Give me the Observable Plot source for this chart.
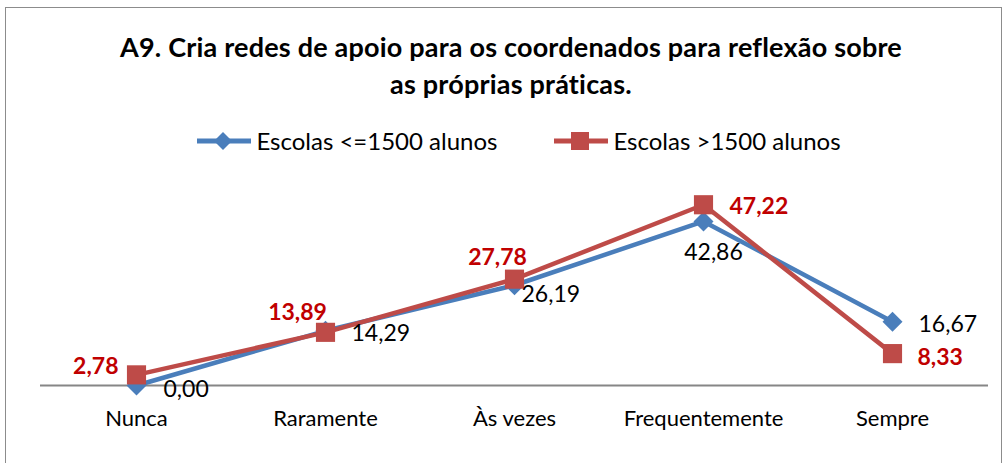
<!DOCTYPE html>
<html>
<head>
<meta charset="utf-8">
<script src="https://cdn.jsdelivr.net/npm/d3@7"></script>
<script src="https://cdn.jsdelivr.net/npm/@observablehq/plot@0.6"></script>
<style>
  body { margin: 0; background: #fff; font-family: Lato, "Open Sans", sans-serif; }
  #wrap { position: relative; width: 1004px; height: 463px; overflow: hidden; background: #fff; }
  #frame { position: absolute; left: 5px; top: 7px; width: 997px; height: 460px; border: 1.5px solid #8c8c8c; box-sizing: border-box; }
  #title { position: absolute; left: 0; width: 1022px; top: 28px; text-align: center; font-weight: 700; font-size: 27px; letter-spacing: 0.2px; line-height: 37px; color: #000; white-space: nowrap; }
  #legend { position: absolute; left: 17px; width: 1004px; top: 126px; display: flex; justify-content: center; font-size: 24px; line-height: 30px; color: #000; }
  .item { display: flex; align-items: center; }
  .item svg { margin-right: 5px; }
  #chart { position: absolute; left: 0; top: 0; }
</style>
</head>
<body>
<div id="wrap">
  <div id="frame"></div>
  <div id="chart"></div>
  <div id="title">A9. Cria redes de apoio para os coordenados para reflexão sobre<br>as próprias práticas.</div>
  <div id="legend"></div>
</div>
<script>
const categories = ["Nunca", "Raramente", "Às vezes", "Frequentemente", "Sempre"];
const smallSchools = [0.00, 14.29, 26.19, 42.86, 16.67];
const largeSchools = [2.78, 13.89, 27.78, 47.22, 8.33];
const seriesNames = ["Escolas <=1500 alunos", "Escolas >1500 alunos"];
const seriesColors = ["#4A7EBB", "#BE4B48"];

const fmt = v => d3.format(".2f")(v).replace(".", ",");
const rows = s => categories.map((c, i) => ({cat: c, v: s === 0 ? smallSchools[i] : largeSchools[i], s}));
const blue = rows(0), red = rows(1);

// label placement per point (offsets in px)
const blueLabelPos = {
  "Nunca": {dx: 27, dy: 4, anchor: "start"},
  "Raramente": {dx: 26, dy: 3, anchor: "start"},
  "Às vezes": {dx: 7, dy: 9, anchor: "start"},
  "Frequentemente": {dx: 10, dy: 31, anchor: "middle"},
  "Sempre": {dx: 26, dy: 3, anchor: "start"}
};
const redLabelPos = {
  "Nunca": {dx: -18, dy: -8, anchor: "end"},
  "Raramente": {dx: -28, dy: -20, anchor: "middle"},
  "Às vezes": {dx: -17, dy: -22, anchor: "middle"},
  "Frequentemente": {dx: 26, dy: 2, anchor: "start"},
  "Sempre": {dx: 25, dy: 4, anchor: "start"}
};
function labels(data, pos, style) {
  return data.map(d => Plot.text([d], {
    x: "cat", y: "v", text: d => fmt(d.v),
    dx: pos[d.cat].dx, dy: pos[d.cat].dy, textAnchor: pos[d.cat].anchor,
    lineAnchor: "middle", ...style
  }));
}

const chart = Plot.plot({
  width: 1004, height: 463,
  marginLeft: 40, marginRight: 16, marginTop: 193.6, marginBottom: 78,
  style: {fontFamily: "Lato, 'Open Sans', sans-serif", background: "transparent"},
  x: {type: "point", domain: categories, padding: 0.5, axis: null},
  y: {domain: [0, 50], axis: null},
  marks: [
    Plot.ruleY([0], {stroke: "#868686", strokeWidth: 2}),
    Plot.text(categories, {x: d => d, frameAnchor: "bottom", dy: 33, lineAnchor: "middle", fontSize: 22, fill: "#000"}),
    Plot.line(blue, {x: "cat", y: "v", stroke: seriesColors[0], strokeWidth: 4.5}),
    Plot.dot(blue, {x: "cat", y: "v", symbol: "diamond2", r: 9, fill: seriesColors[0], stroke: "none"}),
    Plot.line(red, {x: "cat", y: "v", stroke: seriesColors[1], strokeWidth: 4.5}),
    Plot.dot(red, {x: "cat", y: "v", symbol: "square", r: 10.8, fill: seriesColors[1], stroke: "none"}),
    ...labels(blue, blueLabelPos, {fontSize: 23, fill: "#000"}),
    ...labels(red, redLabelPos, {fontSize: 23, fill: "#C00000", fontWeight: "bold"})
  ]
});
document.getElementById("chart").appendChild(chart);

// legend
const legend = document.getElementById("legend");
seriesNames.forEach((name, i) => {
  const item = document.createElement("div");
  item.className = "item";
  item.style.marginRight = i === 0 ? "57px" : "0";
  const marker = i === 0
    ? `<polygon points="26,1 35,10 26,19 17,10" fill="${seriesColors[0]}"/>`
    : `<rect x="17" y="1" width="18" height="18" fill="${seriesColors[1]}"/>`;
  item.innerHTML = `<svg width="54" height="20"><line x1="0" x2="54" y1="10" y2="10" stroke="${seriesColors[i]}" stroke-width="5"/>${marker}</svg><span>${name}</span>`;
  legend.appendChild(item);
});
</script>
</body>
</html>
